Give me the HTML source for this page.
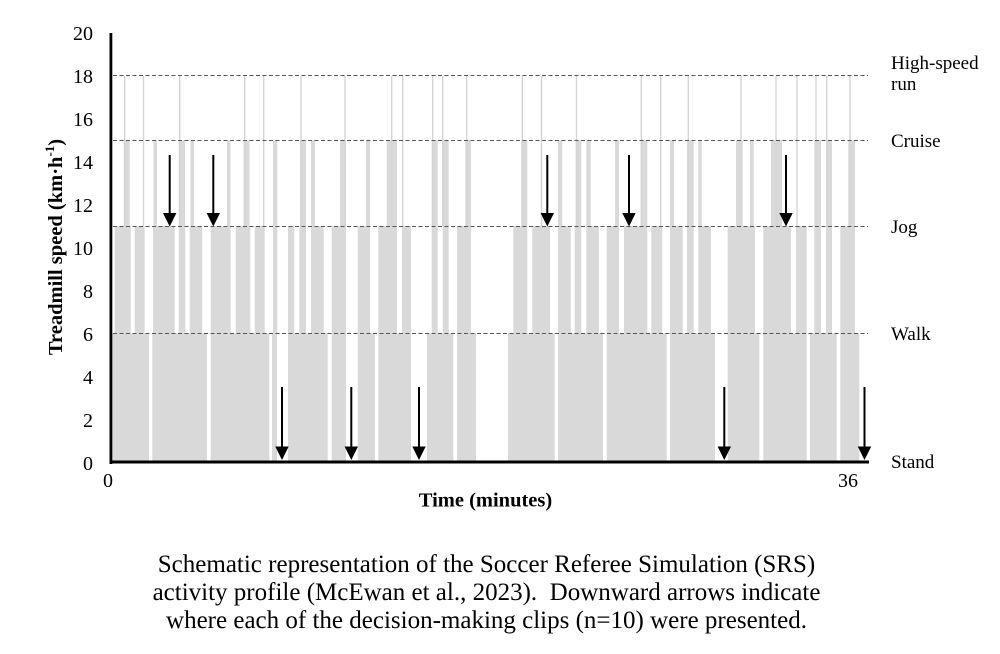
<!DOCTYPE html>
<html><head><meta charset="utf-8"><style>
html,body{margin:0;padding:0;background:#fff;}
svg{display:block;}
</style></head><body>
<svg width="1000" height="654" viewBox="0 0 1000 654" xmlns="http://www.w3.org/2000/svg">
<rect width="1000" height="654" fill="#fff"/>
<g fill="#d9d9d9">
<!-- band 0-6 -->
<g transform="translate(0,333.3)">
<rect x="112" width="37" y="0" height="128.7"/>
<rect x="152.3" width="54.7" y="0" height="128.7"/>
<rect x="210.7" width="58.6" y="0" height="128.7"/>
<rect x="272" width="5" y="0" height="128.7"/>
<rect x="288" width="39.7" y="0" height="128.7"/>
<rect x="331.7" width="14.3" y="0" height="128.7"/>
<rect x="357.7" width="17.3" y="0" height="128.7"/>
<rect x="378.3" width="32.7" y="0" height="128.7"/>
<rect x="427" width="26.3" y="0" height="128.7"/>
<rect x="457" width="19" y="0" height="128.7"/>
<rect x="508" width="46.7" y="0" height="128.7"/>
<rect x="558" width="45" y="0" height="128.7"/>
<rect x="606.7" width="60" y="0" height="128.7"/>
<rect x="670" width="45" y="0" height="128.7"/>
<rect x="727.7" width="31.6" y="0" height="128.7"/>
<rect x="763.3" width="43.4" y="0" height="128.7"/>
<rect x="810" width="26.7" y="0" height="128.7"/>
<rect x="840.3" width="19" y="0" height="128.7"/>
</g>
<!-- band 6-11 -->
<g transform="translate(0,226.1)">
<rect x="114.7" width="16" y="0" height="107.5"/>
<rect x="134.7" width="10" y="0" height="107.5"/>
<rect x="153" width="21.7" y="0" height="107.5"/>
<rect x="178.7" width="6.6" y="0" height="107.5"/>
<rect x="189.7" width="12.6" y="0" height="107.5"/>
<rect x="210.7" width="20" y="0" height="107.5"/>
<rect x="235.7" width="14.6" y="0" height="107.5"/>
<rect x="254.7" width="10" y="0" height="107.5"/>
<rect x="273" width="4.3" y="0" height="107.5"/>
<rect x="288" width="6.3" y="0" height="107.5"/>
<rect x="299.3" width="6.7" y="0" height="107.5"/>
<rect x="311" width="12.7" y="0" height="107.5"/>
<rect x="331.7" width="14.3" y="0" height="107.5"/>
<rect x="357.7" width="12.3" y="0" height="107.5"/>
<rect x="378.3" width="18.7" y="0" height="107.5"/>
<rect x="402" width="9" y="0" height="107.5"/>
<rect x="431.7" width="6" y="0" height="107.5"/>
<rect x="442.7" width="6" y="0" height="107.5"/>
<rect x="457" width="14" y="0" height="107.5"/>
<rect x="513.3" width="14" y="0" height="107.5"/>
<rect x="532.3" width="17.7" y="0" height="107.5"/>
<rect x="558" width="12.7" y="0" height="107.5"/>
<rect x="574.7" width="6.6" y="0" height="107.5"/>
<rect x="586.3" width="12.7" y="0" height="107.5"/>
<rect x="606.7" width="12.3" y="0" height="107.5"/>
<rect x="624" width="23.3" y="0" height="107.5"/>
<rect x="651.3" width="11" y="0" height="107.5"/>
<rect x="670" width="12.7" y="0" height="107.5"/>
<rect x="687" width="6.7" y="0" height="107.5"/>
<rect x="698.3" width="12.7" y="0" height="107.5"/>
<rect x="727.7" width="27.3" y="0" height="107.5"/>
<rect x="763.3" width="27.7" y="0" height="107.5"/>
<rect x="796" width="10.7" y="0" height="107.5"/>
<rect x="814.3" width="6.7" y="0" height="107.5"/>
<rect x="826" width="6" y="0" height="107.5"/>
<rect x="840.3" width="14.7" y="0" height="107.5"/>
</g>
<!-- band 11-15 -->
<g transform="translate(0,140.3)">
<rect x="123.7" width="6" y="0" height="86"/>
<rect x="153.5" width="3.5" y="0" height="86"/>
<rect x="178.7" width="6.3" y="0" height="86"/>
<rect x="190.5" width="3.5" y="0" height="86"/>
<rect x="227" width="3.5" y="0" height="86"/>
<rect x="243.5" width="6" y="0" height="86"/>
<rect x="273" width="4.3" y="0" height="86"/>
<rect x="300" width="6" y="0" height="86"/>
<rect x="311" width="4" y="0" height="86"/>
<rect x="340" width="6" y="0" height="86"/>
<rect x="366" width="4" y="0" height="86"/>
<rect x="386.7" width="10.3" y="0" height="86"/>
<rect x="431.7" width="6" y="0" height="86"/>
<rect x="442.7" width="6" y="0" height="86"/>
<rect x="465.3" width="5.7" y="0" height="86"/>
<rect x="521.3" width="6" y="0" height="86"/>
<rect x="558" width="4.3" y="0" height="86"/>
<rect x="575.7" width="5.6" y="0" height="86"/>
<rect x="586.3" width="4.4" y="0" height="86"/>
<rect x="615" width="4" y="0" height="86"/>
<rect x="640.7" width="6.6" y="0" height="86"/>
<rect x="670" width="4" y="0" height="86"/>
<rect x="687" width="6.7" y="0" height="86"/>
<rect x="698.3" width="3.4" y="0" height="86"/>
<rect x="736" width="6.7" y="0" height="86"/>
<rect x="750" width="3.7" y="0" height="86"/>
<rect x="771" width="11" y="0" height="86"/>
<rect x="814.3" width="6.7" y="0" height="86"/>
<rect x="826" width="6" y="0" height="86"/>
<rect x="848.3" width="6.7" y="0" height="86"/>
</g>
</g>
<!-- spikes to 18 -->
<g stroke="#d4d4d4" stroke-width="1.4">
<line x1="124.7" y1="76" x2="124.7" y2="226"/>
<line x1="143.5" y1="76" x2="143.5" y2="226"/>
<line x1="179.7" y1="76" x2="179.7" y2="226"/>
<line x1="244.7" y1="76" x2="244.7" y2="226"/>
<line x1="263.7" y1="76" x2="263.7" y2="226"/>
<line x1="301" y1="76" x2="301" y2="226"/>
<line x1="345" y1="76" x2="345" y2="226"/>
<line x1="391.7" y1="76" x2="391.7" y2="226"/>
<line x1="402.7" y1="76" x2="402.7" y2="226"/>
<line x1="432.7" y1="76" x2="432.7" y2="226"/>
<line x1="442.7" y1="76" x2="442.7" y2="226"/>
<line x1="466.7" y1="76" x2="466.7" y2="226"/>
<line x1="522.3" y1="76" x2="522.3" y2="226"/>
<line x1="541.5" y1="76" x2="541.5" y2="226"/>
<line x1="576.5" y1="76" x2="576.5" y2="226"/>
<line x1="641.3" y1="76" x2="641.3" y2="226"/>
<line x1="660.7" y1="76" x2="660.7" y2="226"/>
<line x1="688.3" y1="76" x2="688.3" y2="226"/>
<line x1="741" y1="76" x2="741" y2="226"/>
<line x1="776" y1="76" x2="776" y2="226"/>
<line x1="797" y1="76" x2="797" y2="226"/>
<line x1="816" y1="76" x2="816" y2="226"/>
<line x1="826.7" y1="76" x2="826.7" y2="226"/>
<line x1="850" y1="76" x2="850" y2="226"/>
</g>
<!-- dashed level lines -->
<g stroke="#555" stroke-width="1" stroke-dasharray="4 2.5">
<line x1="113" y1="75.5" x2="868" y2="75.5"/>
<line x1="113" y1="140.5" x2="868" y2="140.5"/>
<line x1="113" y1="226.5" x2="868" y2="226.5"/>
<line x1="113" y1="333.5" x2="868" y2="333.5"/>
</g>
<!-- axes -->
<rect x="109.5" y="33" width="2.8" height="431" fill="#000"/>
<rect x="109.5" y="460.5" width="759.5" height="3" fill="#000"/>
<!-- arrows -->
<g fill="#000">
<g>
<rect x="168.7" y="155" width="2" height="60"/><polygon points="163,213 176.4,213 169.7,226.5"/>
<rect x="212.3" y="155" width="2" height="60"/><polygon points="206.6,213 220,213 213.3,226.5"/>
<rect x="546.3" y="155" width="2" height="60"/><polygon points="540.6,213 554,213 547.3,226.5"/>
<rect x="628" y="155" width="2" height="60"/><polygon points="622.3,213 635.7,213 629,226.5"/>
<rect x="785" y="155" width="2" height="60"/><polygon points="779.3,213 792.7,213 786,226.5"/>
</g>
<g>
<rect x="281" y="387" width="2" height="61"/><polygon points="275.3,446.5 288.7,446.5 282,460"/>
<rect x="350.3" y="387" width="2" height="61"/><polygon points="344.6,446.5 358,446.5 351.3,460"/>
<rect x="418" y="387" width="2" height="61"/><polygon points="412.3,446.5 425.7,446.5 419,460"/>
<rect x="723.3" y="387" width="2" height="61"/><polygon points="717.6,446.5 731,446.5 724.3,460"/>
<rect x="863.5" y="387" width="2" height="61"/><polygon points="857.8,446.5 871.2,446.5 864.5,460"/>
</g>
</g>
<!-- y tick labels -->
<g font-family="Liberation Serif, Times New Roman, serif" font-size="20" fill="#000" text-anchor="end">
<text x="93" y="40">20</text>
<text x="93" y="83">18</text>
<text x="93" y="126">16</text>
<text x="93" y="169">14</text>
<text x="93" y="212">12</text>
<text x="93" y="255">10</text>
<text x="93" y="298">8</text>
<text x="93" y="341">6</text>
<text x="93" y="384">4</text>
<text x="93" y="427">2</text>
<text x="93" y="470">0</text>
</g>
<!-- x tick labels -->
<g font-family="Liberation Serif, Times New Roman, serif" font-size="20" fill="#000" text-anchor="middle">
<text x="108" y="487">0</text>
<text x="848" y="487">36</text>
</g>
<!-- right labels -->
<g font-family="Liberation Serif, Times New Roman, serif" font-size="19" fill="#000">
<text x="891" y="69">High-speed</text>
<text x="891" y="90">run</text>
<text x="891" y="147">Cruise</text>
<text x="891" y="233">Jog</text>
<text x="891" y="340">Walk</text>
<text x="891" y="468">Stand</text>
</g>
<!-- axis titles -->
<text x="485.5" y="506.5" font-family="Liberation Serif, Times New Roman, serif" font-size="20.5" font-weight="bold" text-anchor="middle">Time (minutes)</text>
<text transform="translate(62,247) rotate(-90)" x="0" y="0" font-family="Liberation Serif, Times New Roman, serif" font-size="20.5" font-weight="bold" text-anchor="middle">Treadmill speed (km·h<tspan font-size="13" dy="-8">-1</tspan><tspan dy="8">)</tspan></text>
<!-- caption -->
<g font-family="Liberation Serif, Times New Roman, serif" font-size="25" fill="#000" text-anchor="middle">
<text x="486.5" y="572">Schematic representation of the Soccer Referee Simulation (SRS)</text>
<text x="486.5" y="600">activity profile (McEwan et al., 2023).&#160; Downward arrows indicate</text>
<text x="486.5" y="628">where each of the decision-making clips (n=10) were presented.</text>
</g>
</svg>
</body></html>
